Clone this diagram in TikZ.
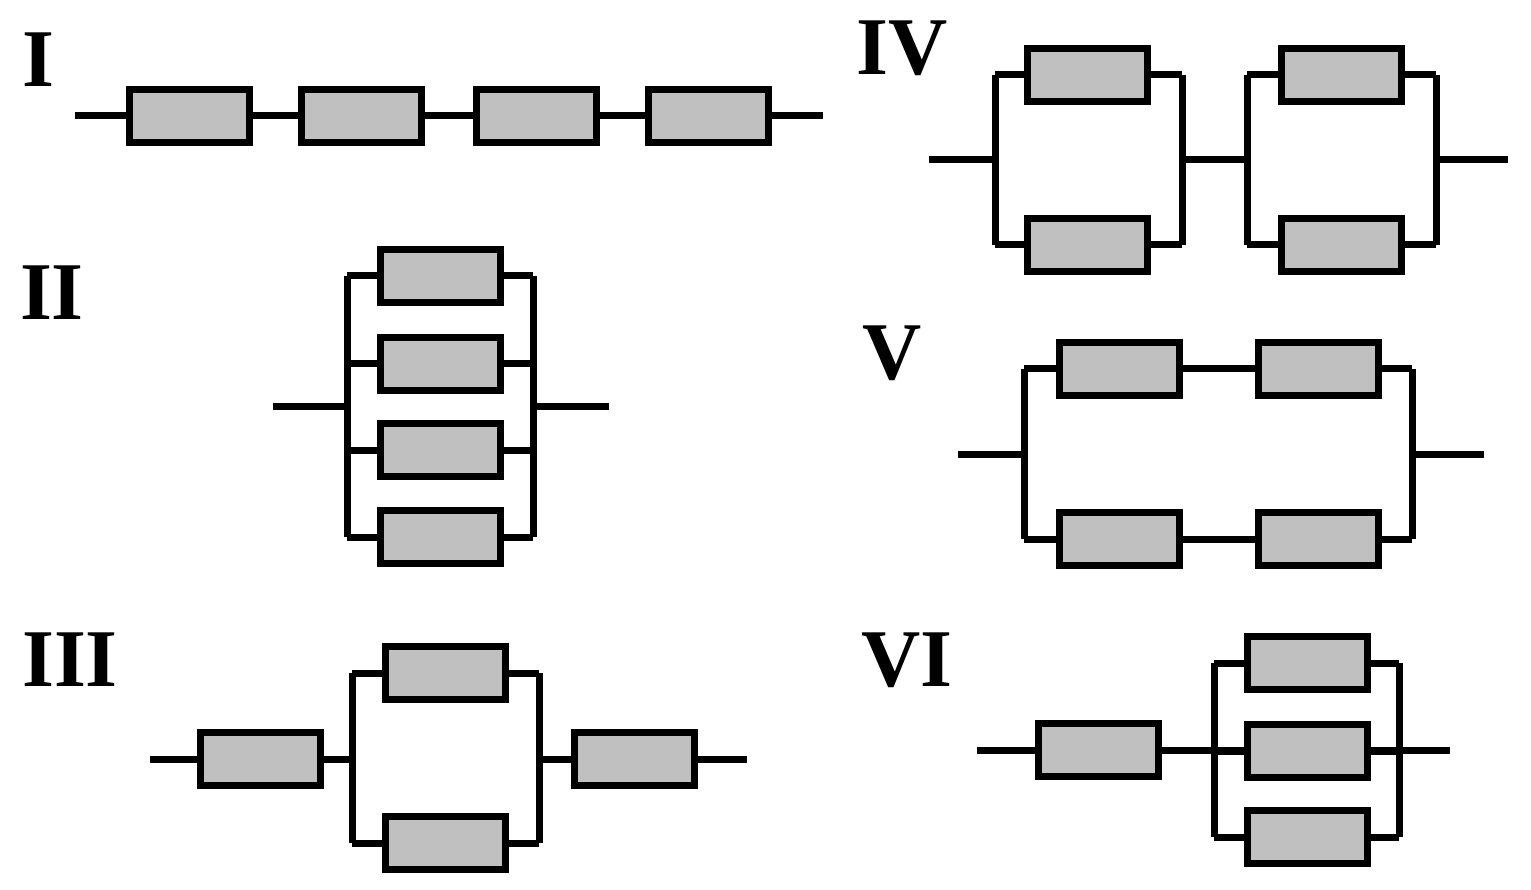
\documentclass[tikz,border=0pt]{standalone}
\usepackage{fontspec}
\setmainfont{Liberation Serif}
\definecolor{boxgray}{HTML}{C0C0C0}
\begin{document}
\begin{tikzpicture}[x=1pt,y=-1pt,
  comp/.style={draw=black,fill=boxgray,line width=7pt,minimum width=120pt,minimum height=53pt,inner sep=0pt},
  wire/.style={line width=7pt},
  lab/.style={font=\fontsize{82}{82}\selectfont\bfseries,inner sep=0pt}]
\useasboundingbox (0,0) rectangle (1531,890);
% ---- I
\node[lab] (LI) at (38,60) {I};
\coordinate (i0) at (75,116); \coordinate (i5) at (823,116);
\draw[wire] (i0) -- (i5);
\node[comp] (i1) at (189,116) {};
\node[comp] (i2) at (361,116) {};
\node[comp] (i3) at (536,116) {};
\node[comp] (i4) at (708,116) {};
% ---- II
\node[lab] (LII) at (52,293) {II};
\coordinate (iiL) at (273,406); \coordinate (iiR) at (609,406);
\coordinate (iiLt) at (347,276); \coordinate (iiLb) at (347,537);
\coordinate (iiRt) at (533,276); \coordinate (iiRb) at (533,537);
\draw[wire] (iiL) -- (347,406); \draw[wire] (533,406) -- (iiR);
\draw[wire] (iiLt) -- (iiLb); \draw[wire] (iiRt) -- (iiRb);
\foreach \n/\y in {1/276,2/364,3/450,4/537}{
  \draw[wire] (347,\y) -- (533,\y);
  \node[comp] (ii\n) at (440,\y) {};
}
% ---- III
\node[lab] (LIII) at (70,660) {III};
\coordinate (iii0) at (150,759); \coordinate (iii5) at (747,759);
\node[comp] (iii1) at (260,759) {};
\node[comp] (iii4) at (634,759) {};
\coordinate (iiiLt) at (352,673); \coordinate (iiiLb) at (352,843);
\coordinate (iiiRt) at (539,673); \coordinate (iiiRb) at (539,843);
\draw[wire] (iii0) -- (iii1); \draw[wire] (iii1) -- (352,759);
\draw[wire] (539,759) -- (iii4); \draw[wire] (iii4) -- (iii5);
\draw[wire] (iiiLt) -- (iiiLb); \draw[wire] (iiiRt) -- (iiiRb);
\draw[wire] (iiiLt) -- (iiiRt); \draw[wire] (iiiLb) -- (iiiRb);
\node[comp] (iii2) at (445,673) {};
\node[comp] (iii3) at (445,843) {};
% ---- IV
\node[lab] (LIV) at (902,48) {IV};
\coordinate (iv0) at (929,160); \coordinate (iv5) at (1508,160);
\draw[wire] (iv0) -- (995,160); \draw[wire] (1182,160) -- (1247,160); \draw[wire] (1436,160) -- (iv5);
\foreach \a/\b/\c in {995/1182/1087, 1247/1436/1341}{
  \draw[wire] (\a,75) -- (\a,245); \draw[wire] (\b,75) -- (\b,245);
  \draw[wire] (\a,75) -- (\b,75); \draw[wire] (\a,245) -- (\b,245);
}
\node[comp] (iv1) at (1087,75) {};
\node[comp] (iv2) at (1087,245) {};
\node[comp] (iv3) at (1341,75) {};
\node[comp] (iv4) at (1341,245) {};
% ---- V
\node[lab] (LV) at (892,353) {V};
\coordinate (v0) at (958,454); \coordinate (v5) at (1484,454);
\draw[wire] (v0) -- (1024,454); \draw[wire] (1412,454) -- (v5);
\draw[wire] (1024,369) -- (1024,539); \draw[wire] (1412,369) -- (1412,539);
\draw[wire] (1024,369) -- (1412,369); \draw[wire] (1024,539) -- (1412,539);
\node[comp] (v1) at (1119,369) {};
\node[comp] (v2) at (1318,369) {};
\node[comp] (v3) at (1119,539) {};
\node[comp] (v4) at (1318,539) {};
% ---- VI
\node[lab] (LVI) at (907,660) {VI};
\coordinate (vi0) at (977,750); \coordinate (vi5) at (1450,750);
\draw[wire] (vi0) -- (vi5);
\node[comp] (vi1) at (1098,750) {};
\draw[wire] (1214,663) -- (1214,837); \draw[wire] (1399,663) -- (1399,837);
\foreach \n/\y in {2/663,3/751,4/837}{
  \draw[wire] (1214,\y) -- (1399,\y);
  \node[comp] (vi\n) at (1307,\y) {};
}
\end{tikzpicture}
\end{document}
